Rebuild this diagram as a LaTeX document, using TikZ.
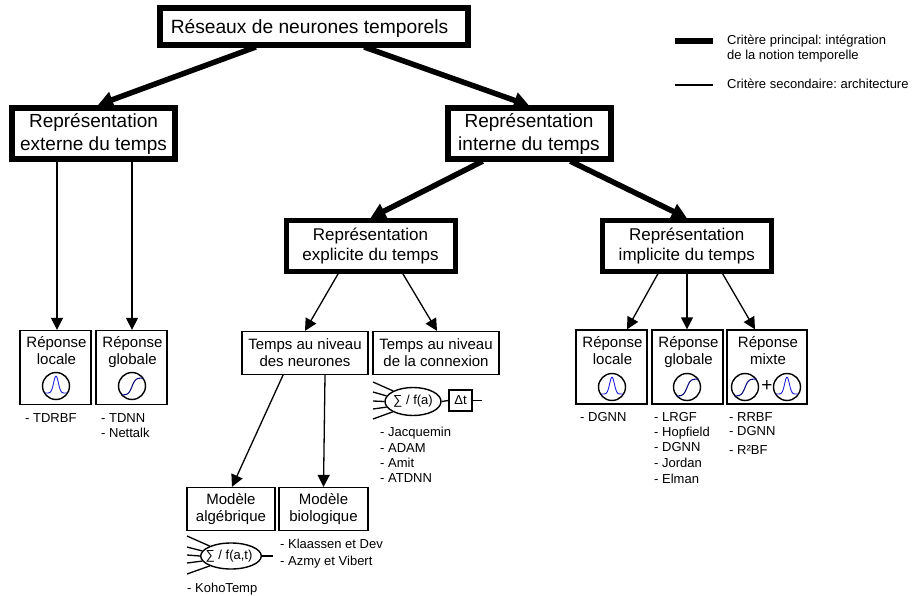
\documentclass[tikz,border=0pt]{standalone}
\usepackage{fontspec}
\setmainfont{Liberation Sans}
\usepackage{tikz}
\usetikzlibrary{calc}
\usetikzlibrary{arrows.meta}
\usetikzlibrary{shapes.geometric}
\definecolor{curveblue}{RGB}{30,30,225}
\definecolor{curvenavy}{RGB}{15,15,130}
\newcommand{\sizeroot}{\fontsize{19.2}{24}\selectfont}
\newcommand{\sizelarge}{\fontsize{19}{23}\selectfont}
\newcommand{\sizemid}{\fontsize{17}{20}\selectfont}
\newcommand{\sizesmall}{\fontsize{15}{17}\selectfont}
\newcommand{\sizelist}{\fontsize{13}{15}\selectfont}
\frenchspacing
\tikzset{
    common/.style={draw, rectangle, align=center, inner sep=0pt},
    rootbox/.style={common, line width=6pt, minimum width=308, minimum height=37, text height=17.5pt, text depth=4pt, font=\sizeroot},
    largebox/.style={common, line width=6pt, minimum width=163, minimum height=51, font=\sizelarge},
    midbox/.style={common, line width=5pt, minimum width=169, minimum height=51, font=\sizemid},
    smallbox/.style={common, line width=1.3pt, minimum height=43, font=\sizesmall},
    respbox/.style={common, line width=1.3pt, minimum height=74},
    resptext/.style={align=center, inner sep=0pt, anchor=north, font=\sizesmall},
    icon/.style={draw, circle, line width=1.4pt, minimum size=27, inner sep=0pt},
    soma/.style={draw, ellipse, line width=1.4pt, inner sep=0pt, font=\sizelist},
    delay/.style={common, line width=1.3pt, minimum width=23, minimum height=21, font=\sizelist},
    listing/.style={anchor=base west, inner sep=0pt, font=\sizelist},
    strong/.style={line width=5.5pt, shorten <=-3pt, -{Triangle[length=15pt,width=16pt]}},
    weak/.style={line width=1.3pt, shorten <=-1pt, -{Triangle[length=12pt,width=12pt]}},
    wire/.style={line width=1.3pt}
}

\begin{document}
\begin{tikzpicture}[x=1pt, y=-1pt]
          \useasboundingbox (0,0) rectangle (912,596);

          \newcommand\gaussicon[2]{
            \node[icon] (#1) at #2 {};
            \begin{scope}[shift={#2}]
              \draw[curveblue, line width=0.9pt] plot[domain=-11:11, samples=30, smooth] (\x, {7-17*exp(-\x*\x/11)});
            \end{scope}
          }

          \newcommand\sigmicon[2]{
            \node[icon] (#1) at #2 {};
            \begin{scope}[shift={#2}]
              \draw[curvenavy, line width=1.1pt] plot[domain=-10.5:11.5, samples=30, smooth] (\x, {0.5-8.5*tanh(\x/3.5)});
            \end{scope}
          }

          \newcommand\respbox[4]{
            \node[respbox, minimum width=#3] (#1) at #2 {};
            \node[resptext] (#1-text) at ($(#1.north)+(1,6.5)$) {#4};
          }

          \path
              (314,26.5) node[rootbox] (root) {\hspace*{-9pt}Réseaux de neurones temporels}
              (93.5,133.5) node[largebox] (ext) {Représentation\\externe du temps}
              (529,134) node[largebox] (int) {Représentation\\interne du temps}
              (370.5,246) node[midbox] (expl) {Représentation\\explicite du temps}
              (686.75,246) node[midbox] (impl) {Représentation\\implicite du temps}
              (305,353) node[smallbox, minimum width=126] (neur) {Temps au niveau\\des neurones}
              (436,353) node[smallbox, minimum width=126] (conn) {Temps au niveau\\de la connexion}
              (231,509) node[smallbox, minimum width=88] (alge) {Modèle\\algébrique}
              (323.5,509) node[smallbox, minimum width=89] (biol) {Modèle\\biologique};

          \respbox{ext-loc}{(55.5,367.5)}{71}{Réponse\\locale}
          \respbox{ext-glo}{(131.5,367.5)}{71}{Réponse\\globale}
          \respbox{imp-loc}{(611.5,367)}{71}{Réponse\\locale}
          \respbox{imp-glo}{(687.5,367)}{71}{Réponse\\globale}
          \respbox{imp-mix}{(767,367)}{80}{Réponse\\mixte}

          \gaussicon{ext-loc-g}{(56,386)}
          \sigmicon{ext-glo-s}{(132,386)}
          \gaussicon{imp-loc-g}{(612,387)}
          \sigmicon{imp-glo-s}{(687,387)}
          \sigmicon{imp-mix-s}{(745,387)}
          \node[font=\sizelarge, inner sep=0pt] (imp-mix-plus) at (767,386) {+};
          \gaussicon{imp-mix-g}{(787,387)}

          \draw[strong] ($(root.south)+(-61,0)$) -- ($(ext.north)+(4.5,0)$);
          \draw[strong] ($(root.south)+(53,0)$) -- (int.north);
          \draw[strong] ($(int.south)+(-49,0)$) -- (expl.north);
          \draw[strong] ($(int.south)+(44,0)$) -- (impl.north);

          \draw[weak] ($(ext.south)+(-36.5,0)$) -- ($(ext-loc.north)+(1.5,0)$);
          \draw[weak] ($(ext.south)+(38.5,0)$) -- ($(ext-glo.north)+(0.5,0)$);
          \draw[weak] ($(expl.south)+(-32.5,0)$) -- (neur.north);
          \draw[weak] ($(expl.south)+(32.5,0)$) -- ($(conn.north)+(1,0)$);
          \draw[weak] ($(neur.south)+(-22,0)$) -- ($(alge.north)+(1,0)$);
          \draw[weak] ($(neur.south)+(20,0)$) -- (biol.north);
          \draw[weak] ($(impl.south)+(-29,0)$) -- ($(imp-loc.north)+(15.5,0)$);
          \draw[weak] ($(impl.south)+(0.25,0)$) -- ($(imp-glo.north)+(-0.5,0)$);
          \draw[weak] ($(impl.south)+(36,0)$) -- ($(imp-mix.north)+(-12,0)$);

          \node[soma, minimum width=60, minimum height=26] (sum-alge) at (231,556) {\hspace*{-4pt}∑ / f(a,t)};
          \coordinate (alge-in-1) at (187,536);
          \coordinate (alge-in-2) at (187,547);
          \coordinate (alge-in-3) at (187,555);
          \coordinate (alge-in-4) at (187,563);
          \coordinate (alge-in-5) at (187,574);
          \coordinate (alge-out) at (273,556);
          \draw[wire] (alge-in-1) -- (sum-alge.155);
          \draw[wire] (alge-in-2) -- (sum-alge.170);
          \draw[wire] (alge-in-3) -- (sum-alge.180);
          \draw[wire] (alge-in-4) -- (sum-alge.190);
          \draw[wire] (alge-in-5) -- (sum-alge.205);
          \draw[wire] (sum-alge.east) -- (alge-out);

          \node[soma, minimum width=56, minimum height=28] (sum-conn) at (413,401.5) {∑ / f(a)};
          \node[delay] (dt) at (460.5,400.5) {Δt};
          \coordinate (conn-in-1) at (373,382);
          \coordinate (conn-in-2) at (373,392);
          \coordinate (conn-in-3) at (373,401);
          \coordinate (conn-in-4) at (373,409);
          \coordinate (conn-in-5) at (373,419);
          \coordinate (conn-out) at (482,400.5);
          \draw[wire] (conn-in-1) -- (sum-conn.152);
          \draw[wire] (conn-in-2) -- (sum-conn.168);
          \draw[wire] (conn-in-3) -- (sum-conn.180);
          \draw[wire] (conn-in-4) -- (sum-conn.192);
          \draw[wire] (conn-in-5) -- (sum-conn.207);
          \draw[wire] (sum-conn.east) -- (dt.west);
          \draw[wire] (dt.east) -- (conn-out);

          \path
              (25,422.5) node[listing] (l-tdrbf) {- TDRBF}
              (101,422.5) node[listing] (l-tdnn) {- TDNN}
              ++(0,14.5) node[listing] (l-nettalk) {- Nettalk};

          \path
              (380,436) node[listing] (l-jacq) {- Jacquemin}
              ++(0,16) node[listing] (l-adam) {- ADAM}
              ++(0,15) node[listing] (l-amit) {- Amit}
              ++(0,15) node[listing] (l-atdnn) {- ATDNN};

          \path
              (280,548) node[listing] (l-klaa) {- Klaassen et Dev}
              ++(0,17) node[listing] (l-azmy) {- Azmy et Vibert}
              (187,592) node[listing] (l-koho) {- KohoTemp};

          \path
              (580,421.5) node[listing] (l-dgnn-a) {- DGNN}
              (654,421.5) node[listing] (l-lrgf) {- LRGF}
              ++(0,14.5) node[listing] (l-hopf) {- Hopfield}
              ++(0,15.5) node[listing] (l-dgnn-b) {- DGNN}
              ++(0,15.5) node[listing] (l-jord) {- Jordan}
              ++(0,16) node[listing] (l-elman) {- Elman}
              (729,421) node[listing] (l-rrbf) {- RRBF}
              ++(0,14.5) node[listing] (l-dgnn-c) {- DGNN}
              ++(0,19) node[listing] (l-r2bf) {- R²BF};

          \coordinate (key-a) at (675,41);
          \coordinate (key-b) at (713,41);
          \coordinate (key-c) at (675,85);
          \coordinate (key-d) at (713,85);
          \draw[line width=6pt] (key-a) -- (key-b);
          \draw[line width=1.2pt] (key-c) -- (key-d);
          \path
              (727,44.5) node[listing] (key-main) {Critère principal: intégration}
              ++(0,15.5) node[listing] (key-main-2) {de la notion temporelle}
              (727,89) node[listing] (key-sec) {Critère secondaire: architecture};
\end{tikzpicture}
\end{document}
